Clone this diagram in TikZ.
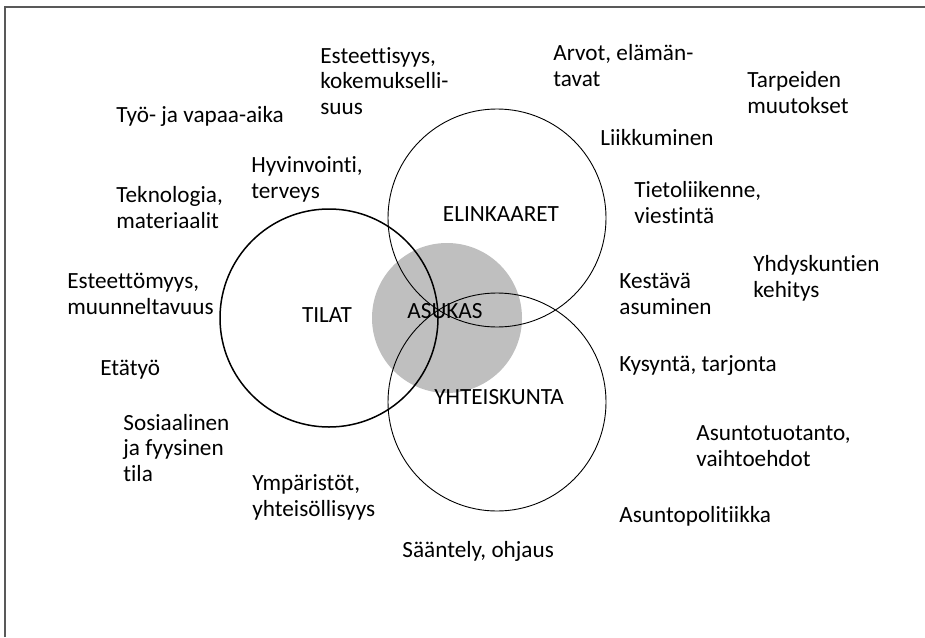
\documentclass[tikz,border=0pt]{standalone}
\usepackage{fontspec}
\setmainfont[Ligatures={NoCommon}]{Carlito}
\usetikzlibrary{positioning}

\begin{document}
\begin{tikzpicture}[x=0.5pt, y=-0.5pt,
	font=\fontsize{11.6pt}{12.75pt}\selectfont,
	ring/.style={draw, circle, minimum size=109pt, inner sep=0pt},
	lbl/.style={anchor=base west, inner sep=0pt, align=left},
	title/.style={anchor=base, inner sep=0pt}]
	\useasboundingbox (0,0) rectangle (925,637);
	% frame
	\draw[line width=0.8pt, black!65] (5,637) -- (5,7) -- (925,7);
	% circles
	\node[circle, fill=black!25, minimum size=75pt, inner sep=0pt] (asukas) at (447,318) {};
	\node[ring, line width=0.75pt] (tilat) at (329,318) {};
	\node[ring, line width=0.45pt] (elinkaaret) at (497,218) {};
	\node[ring, line width=0.45pt] (yhteiskunta) at (497,402) {};
	\node[title] (tTilat) at (327,322) {TILAT};
	\node[title] (tAsukas) at (445,318) {ASUKAS};
	\node[title] (tElinkaaret) at (501,221) {ELINKAARET};
	\node[title] (tYhteiskunta) at (499,404) {YHTEISKUNTA};
	% outer themes (y = baseline of the last line)
	\node[lbl] (estetiikka) at (320,114) {Esteettisyys,\\kokemukselli-\\suus};
	\node[lbl] (arvot) at (553,86) {Arvot, elämän-\\tavat};
	\node[lbl] (tarpeet) at (747,113) {Tarpeiden\\muutokset};
	\node[lbl] (tyo) at (116,122) {Työ- ja vapaa-aika};
	\node[lbl] (liikkuminen) at (600,145) {Liikkuminen};
	\node[lbl] (hyvinvointi) at (251,198) {Hyvinvointi,\\terveys};
	\node[lbl] (teknologia) at (116,228) {Teknologia,\\materiaalit};
	\node[lbl] (tieto) at (634,223) {Tietoliikenne,\\viestintä};
	\node[lbl] (yhdyskunnat) at (753,297) {Yhdyskuntien\\kehitys};
	\node[lbl] (esteettomyys) at (67,314) {Esteettömyys,\\muunneltavuus};
	\node[lbl] (kestava) at (619,314) {Kestävä\\asuminen};
	\node[lbl] (etatyo) at (100,375) {Etätyö};
	\node[lbl] (kysynta) at (619,371) {Kysyntä, tarjonta};
	\node[lbl] (sosiaalinen) at (123,481) {Sosiaalinen\\ja fyysinen\\tila};
	\node[lbl] (tuotanto) at (696,466) {Asuntotuotanto,\\vaihtoehdot};
	\node[lbl] (ymparistot) at (252,516) {Ympäristöt,\\yhteisöllisyys};
	\node[lbl] (politiikka) at (619,522) {Asuntopolitiikka};
	\node[lbl] (saantely) at (402,557) {Sääntely, ohjaus};
\end{tikzpicture}
\end{document}
